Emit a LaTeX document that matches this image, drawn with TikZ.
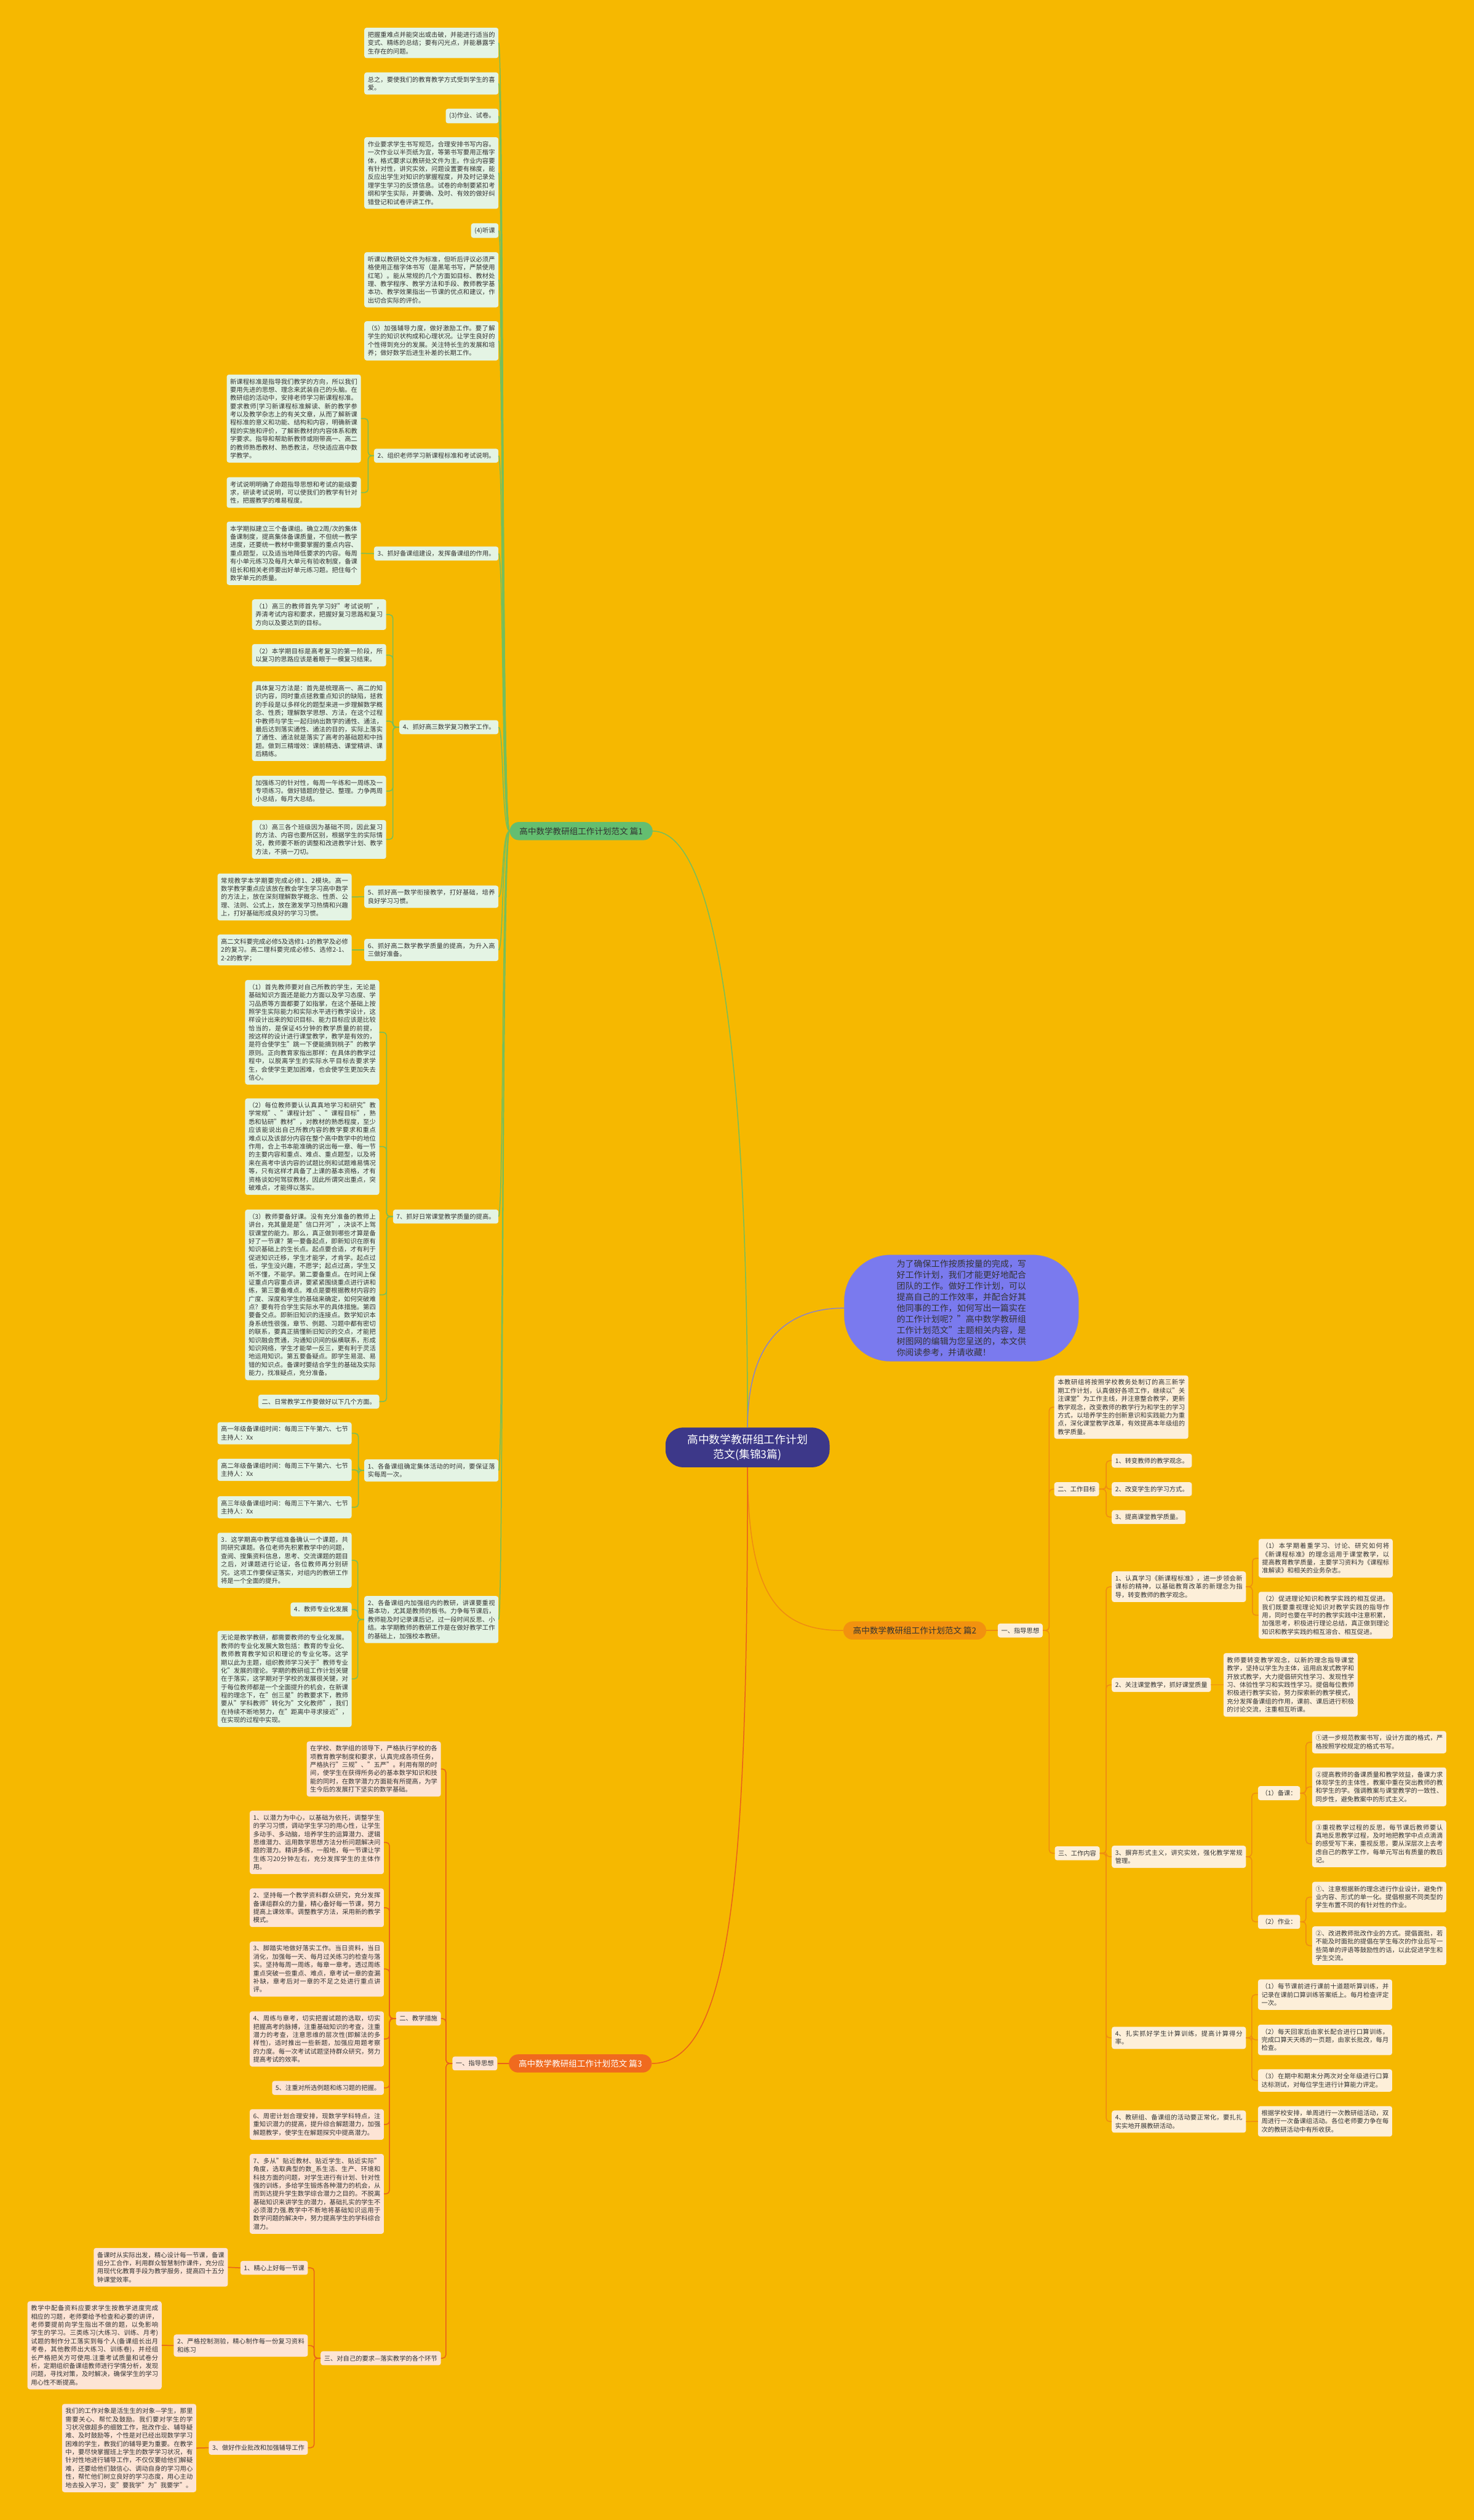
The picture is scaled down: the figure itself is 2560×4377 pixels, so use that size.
\documentclass[tikz,border=0pt]{standalone}
\usepackage{fontspec}
\setmainfont{Noto Sans CJK SC}
\XeTeXlinebreaklocale "zh"
\XeTeXlinebreakskip = 0pt plus 1pt
\setlength{\parindent}{0pt}

\definecolor{bgyel}{HTML}{F6B800}
\definecolor{txt}{HTML}{333333}
\definecolor{gline}{HTML}{74BF5C}
\definecolor{gfill}{HTML}{E4F4E4}
\definecolor{gmain}{HTML}{64BE70}
\definecolor{oline}{HTML}{EF8C12}
\definecolor{ofill}{HTML}{FDEFD9}
\definecolor{omain}{HTML}{F2920F}
\definecolor{rline}{HTML}{E9601C}
\definecolor{rfill}{HTML}{FDE4D5}
\definecolor{rmain}{HTML}{F06A1E}
\definecolor{rootc}{HTML}{3D3889}
\definecolor{introc}{HTML}{7A7AEE}
\definecolor{introl}{HTML}{8A84C8}

\newcommand{\leaffnt}{\fontsize{11pt}{14.3pt}\selectfont}
\newcommand{\mainfnt}{\fontsize{14.5pt}{17pt}\selectfont}
\newcommand{\rootfnt}{\fontsize{19pt}{25pt}\selectfont}
\newcommand{\introfnt}{\fontsize{14.9pt}{19.3pt}\selectfont}

\begin{document}
\begin{tikzpicture}[x=1pt, y=-1pt,
    leaf/.style={rounded corners=4pt, inner xsep=6pt, inner ysep=7pt, text=txt, font=\leaffnt},
    wide/.style={text width=221pt, align=justify},
    gleaf/.style={leaf, fill=gfill},
    oleaf/.style={leaf, fill=ofill},
    rleaf/.style={leaf, fill=rfill},
    mainnode/.style={rounded corners=16pt, inner xsep=17pt, inner ysep=9pt, font=\mainfnt},
    glink/.style={draw=gline, line width=1.6pt, rounded corners=6pt},
    olink/.style={draw=oline, line width=1.6pt, rounded corners=6pt},
    rlink/.style={draw=rline, line width=1.6pt, rounded corners=6pt}]

    % background
    \fill[bgyel] (0,0) rectangle (2560,4377);
    \useasboundingbox (0,0) rectangle (2560,4377);

    % centre and intro
    \node[rounded corners=30pt, fill=rootc, text=white, font=\rootfnt, align=center,
          inner xsep=38pt, inner ysep=12pt] (root) at (1298.5,2514) {高中数学教研组工作计划\\范文(集锦3篇)};
    \node[rounded corners=80pt, fill=introc, draw=introl, text=txt, font=\introfnt,
          text width=225pt, align=justify, inner xsep=91pt, inner ysep=8pt] (intro) at (1670,2272)
        {为了确保工作按质按量的完成，写好工作计划，我们才能更好地配合团队的工作。做好工作计划，可以提高自己的工作效率，并配合好其他同事的工作，如何写出一篇实在的工作计划呢？"高中数学教研组工作计划范文"主题相关内容，是树图网的编辑为您呈送的，本文供你阅读参考，并请收藏！};

    % ---------- 篇1 ----------
    \node[mainnode, fill=gmain, text=txt] (p1) at (1009.5,1443.5) {高中数学教研组工作计划范文 篇1};

    \node[gleaf, wide, anchor=east] (a1) at (866,74.5) {把握重难点并能突出或击破，并能进行适当的变式、精练的总结；要有闪光点，并能暴露学生存在的问题。};
    \node[gleaf, wide, anchor=east] (a2) at (866,145) {总之，要使我们的教育教学方式受到学生的喜爱。};
    \node[gleaf, anchor=east] (a3) at (866,201.5) {(3)作业、试卷。};
    \node[gleaf, wide, anchor=east] (a4) at (866,300.5) {作业要求学生书写规范，合理安排书写内容。一次作业以半页纸为宜，等第书写要用正楷字体，格式要求以教研处文件为主。作业内容要有针对性，讲究实效，问题设置要有梯度，能反应出学生对知识的掌握程度，并及时记录处理学生学习的反馈信息。试卷的命制要紧扣考纲和学生实际，并要确、及时、有效的做好纠错登记和试卷评讲工作。};
    \node[gleaf, anchor=east] (a5) at (866,400.5) {(4)听课};
    \node[gleaf, wide, anchor=east] (a6) at (866,486) {听课以教研处文件为标准，但听后评议必须严格使用正楷字体书写（是黑笔书写，严禁使用红笔）。能从常规的几个方面如目标、教材处理、教学程序、教学方法和手段、教师教学基本功、教学效果指出一节课的优点和建议，作出切合实际的评价。};
    \node[gleaf, wide, anchor=east] (a7) at (866,592) {（5）加强辅导力度，做好激励工作。要了解学生的知识状构成和心理状况。让学生良好的个性得到充分的发展。关注特长生的发展和培养；做好数学后进生补差的长期工作。};

    \node[gleaf, anchor=east] (n2) at (866,791.5) {2、组织老师学习新课程标准和考试说明。};
    \node[gleaf, wide, anchor=east] (n2a) at (627,727) {新课程标准是指导我们教学的方向，所以我们要用先进的思想、理念来武装自己的头脑。在教研组的活动中，安排老师学习新课程标准。要求教师[学习新课程标准解读、新的教学参考以及教学杂志上的有关文章，从而了解新课程标准的意义和功能、结构和内容，明确新课程的实施和评价，了解新教材的内容体系和教学要求。指导和帮助新教师或刚带高一、高二的教师熟悉教材、熟悉教法，尽快适应高中数学教学。};
    \node[gleaf, wide, anchor=east] (n2b) at (627,855.5) {考试说明明确了命题指导思想和考试的能级要求，研读考试说明，可以使我们的教学有针对性，把握教学的难易程度。};

    \node[gleaf, anchor=east] (n3) at (866,961.5) {3、抓好备课组建设，发挥备课组的作用。};
    \node[gleaf, wide, anchor=east] (n3a) at (627,961) {本学期拟建立三个备课组。确立2周/次的集体备课制度，提高集体备课质量，不但统一教学进度，还要统一教材中需要掌握的重点内容、重点题型，以及适当地降低要求的内容。每周有小单元练习及每月大单元有验收制度，备课组长和相关老师要出好单元练习题。把住每个数学单元的质量。};

    \node[gleaf, anchor=east] (n4) at (866,1263) {4、抓好高三数学复习教学工作。};
    \node[gleaf, wide, anchor=east] (n4a) at (671,1067.5) {（1）高三的教师首先学习好"考试说明"，弄清考试内容和要求，把握好复习思路和复习方向以及要达到的目标。};
    \node[gleaf, wide, anchor=east] (n4b) at (671,1138) {（2）本学期目标是高考复习的第一阶段，所以复习的思路应该是着眼于一模复习结束。};
    \node[gleaf, wide, anchor=east] (n4c) at (671,1252.5) {具体复习方法是：首先是梳理高一、高二的知识内容，同时重点拯救重点知识的缺陷，拯救的手段是以多样化的题型来进一步理解数学概念、性质；理解数学思想、方法，在这个过程中教师与学生一起归纳出数学的通性、通法，最后达到落实通性、通法的目的，实际上落实了通性、通法就是落实了高考的基础题和中挡题。做到三精增效：课前精选、课堂精讲、课后精练。};
    \node[gleaf, wide, anchor=east] (n4d) at (671,1374) {加强练习的针对性，每周一午练和一周练及一专项练习。做好错题的登记、整理。力争两周小总结，每月大总结。};
    \node[gleaf, wide, anchor=east] (n4e) at (671,1458) {（3）高三各个班级因为基础不同，因此复习的方法、内容也要所区别，根据学生的实际情况，教师要不断的调整和改进教学计划、教学方法，不搞一刀切。};

    \node[gleaf, wide, anchor=east] (n5) at (866,1557.5) {5、抓好高一数学衔接教学，打好基础，培养良好学习习惯。};
    \node[gleaf, wide, anchor=east] (n5a) at (611,1558) {常规教学本学期要完成必修1、2模块。高一数学教学重点应该放在教会学生学习高中数学的方法上，放在深刻理解数学概念、性质、公理、法则、公式上，放在激发学习热情和兴趣上，打好基础形成良好的学习习惯。};

    \node[gleaf, wide, anchor=east] (n6) at (866,1650) {6、抓好高二数学教学质量的提高，为升入高三做好准备。};
    \node[gleaf, wide, anchor=east] (n6a) at (611,1650) {高二文科要完成必修5及选修1-1的教学及必修2的复习。高二理科要完成必修5、选修2-1、2-2的教学；};

    \node[gleaf, anchor=east] (n7) at (866,2113) {7、抓好日常课堂教学质量的提高。};
    \node[gleaf, wide, anchor=east] (n7a) at (659,1793) {（1）首先教师要对自己所教的学生，无论是基础知识方面还是能力方面以及学习态度、学习品质等方面都要了如指掌，在这个基础上按照学生实际能力和实际水平进行教学设计，这样设计出来的知识目标、能力目标应该是比较恰当的，是保证45分钟的教学质量的前提，按这样的设计进行课堂教学，教学是有效的，是符合使学生"跳一下便能摘到桃子"的教学原则。正向教育家指出那样：在具体的教学过程中，以脱离学生的实际水平目标去要求学生，会使学生更加困难，也会使学生更加失去信心。};
    \node[gleaf, wide, anchor=east] (n7b) at (659,1991.5) {（2）每位教师要认认真真地学习和研究"教学常规"、"课程计划"、"课程目标"，熟悉和钻研"教材"，对教材的熟悉程度，至少应该能说出自己所教内容的教学要求和重点难点以及该部分内容在整个高中数学中的地位作用，合上书本能准确的说出每一章、每一节的主要内容和重点、难点、重点题型，以及将来在高考中该内容的试题比例和试题难易情况等，只有这样才具备了上课的基本资格，才有资格谈如何驾驭教材，因此所谓突出重点，突破难点，才能得以落实。};
    \node[gleaf, wide, anchor=east] (n7c) at (659,2249) {（3）教师要备好课。没有充分准备的教师上讲台，充其量是是"信口开河"，决谈不上驾驭课堂的能力。那么，真正做到哪些才算是备好了一节课？第一要备起点，即新知识在原有知识基础上的生长点。起点要合适，才有利于促进知识迁移，学生才能学，才肯学。起点过低，学生没兴趣，不愿学；起点过高，学生又听不懂，不能学。第二要备重点。在时间上保证重点内容重点讲，要紧紧围绕重点进行讲和练，第三要备难点。难点是要根据教材内容的广度、深度和学生的基础来确定，如何突破难点？要有符合学生实际水平的具体措施。第四要备交点。即新旧知识的连接点。数学知识本身系统性很强，章节、例题、习题中都有密切的联系，要真正搞懂新旧知识的交点，才能把知识融会贯通，沟通知识间的纵横联系，形成知识网络，学生才能举一反三，更有利于灵活地运用知识。第五要备疑点。即学生易混、易错的知识点。备课时要结合学生的基础及实际能力，找准疑点，充分准备。};
    \node[gleaf, anchor=east] (n7d) at (659,2434.5) {二、日常教学工作要做好以下几个方面。};

    \node[gleaf, wide, anchor=east] (n8) at (866,2554) {1、各备课组确定集体活动的时间，要保证落实每周一次。};
    \node[gleaf, wide, anchor=east] (n8a) at (611,2489.5) {高一年级备课组时间：每周三下午第六、七节主持人：Xx};
    \node[gleaf, wide, anchor=east] (n8b) at (611,2553) {高二年级备课组时间：每周三下午第六、七节主持人：Xx};
    \node[gleaf, wide, anchor=east] (n8c) at (611,2618) {高三年级备课组时间：每周三下午第六、七节主持人：Xx};

    \node[gleaf, wide, anchor=east] (n9) at (866,2813) {2、各备课组内加强组内的教研，讲课要重视基本功，尤其是教师的板书。力争每节课后，教师能及时记录课后记，过一段时间反思、小结。本学期教师的教研工作是在做好教学工作的基础上，加强校本教研。};
    \node[gleaf, wide, anchor=east] (n9a) at (611,2710) {3．这学期高中教学组准备确认一个课题，共同研究课题。各位老师先积累教学中的问题，查阅、搜集资料信息，思考、交流课题的题目之后，对课题进行论证，各位教师再分别研究。这项工作要保证落实，对组内的教研工作将是一个全面的提升。};
    \node[gleaf, anchor=east] (n9b) at (611,2795.5) {4．教师专业化发展};
    \node[gleaf, wide, anchor=east] (n9c) at (611,2916) {无论是教学教研，都需要教师的专业化发展。教师的专业化发展大致包括：教育的专业化、教师教育教学知识和理论的专业化等。这学期以此为主题，组织教师学习关于"教师专业化"发展的理论。学期的教研组工作计划关键在于落实，这学期对于学校的发展很关键，对于每位教师都是一个全面提升的机会，在新课程的理念下，在"创三星"的教要求下，教师要从"学科教师"转化为"文化教师"，我们在持续不断地努力，在"距离中寻求接近"，在实现的过程中实现。};

    % ---------- 篇2 ----------
    \node[mainnode, fill=omain, text=txt] (p2) at (1589,2832) {高中数学教研组工作计划范文 篇2};
    \node[oleaf, anchor=west] (z1) at (1733,2832) {一、指导思想};
    \node[oleaf, wide, anchor=west] (z2) at (1831,2444) {本教研组将按照学校教务处制订的高三新学期工作计划，认真做好各项工作，继续以"关注课堂"为工作主线，并注意整合教学，更新教学观念，改变教师的教学行为和学生的学习方式，以培养学生的创新意识和实践能力为重点，深化课堂教学改革，有效提高本年级组的教学质量。};
    \node[oleaf, anchor=west] (z3) at (1831,2586.5) {二、工作目标};
    \node[oleaf, anchor=west] (z3a) at (1931,2537) {1、转变教师的教学观念。};
    \node[oleaf, anchor=west] (z3b) at (1931,2586.5) {2、改变学生的学习方式。};
    \node[oleaf, anchor=west] (z3c) at (1931,2635) {3、提高课堂教学质量。};
    \node[oleaf, anchor=west] (z4) at (1832,3219) {三、工作内容};

    \node[oleaf, wide, anchor=west] (z5) at (1931,2756) {1、认真学习《新课程标准》，进一步领会新课标的精神，以基础教育改革的新理念为指导，转变教师的教学观念。};
    \node[oleaf, wide, anchor=west] (z5a) at (2186,2706.5) {（1）本学期着重学习、讨论、研究如何将《新课程标准》的理念运用于课堂教学，以提高教育教学质量，主要学习资料为《课程标准解读》和相关的业务杂志。};
    \node[oleaf, wide, anchor=west] (z5b) at (2186,2805.5) {（2）促进理论知识和教学实践的相互促进。我们既要重视理论知识对教学实践的指导作用，同时也要在平时的教学实践中注意积累，加强思考，积极进行理论总结，真正做到理论知识和教学实践的相互溶合、相互促进。};

    \node[oleaf, anchor=west] (z6) at (1931,2926.5) {2、关注课堂教学，抓好课堂质量};
    \node[oleaf, wide, anchor=west] (z6a) at (2125,2926.5) {教师要转变教学观念，以新的理念指导课堂教学，坚持以学生为主体，运用启发式教学和开放式教学，大力提倡研究性学习、发现性学习、体验性学习和实践性学习。提倡每位教师积极进行教学实验，努力探索新的教学模式，充分发挥备课组的作用，课前、课后进行积极的讨论交流，注重相互听课。};

    \node[oleaf, wide, anchor=west] (z7) at (1931,3225) {3、摒弃形式主义，讲究实效，强化教学常规管理。};
    \node[oleaf, anchor=west] (z7a) at (2185,3114.5) {（1）备课：};
    \node[oleaf, wide, anchor=west] (z7a1) at (2279,3026) {①进一步规范教案书写，设计方面的格式，严格按照学校规定的格式书写。};
    \node[oleaf, wide, anchor=west] (z7a2) at (2279,3103.5) {②提高教师的备课质量和教学效益，备课力求体现学生的主体性，教案中重在突出教师的教和学生的学。强调教案与课堂教学的一致性、同步性，避免教案中的形式主义。};
    \node[oleaf, wide, anchor=west] (z7a3) at (2279,3202.5) {③重视教学过程的反思，每节课后教师要认真地反思教学过程，及时地把教学中点点滴滴的感受写下来，重视反思，要从深层次上去考虑自己的教学工作，每单元写出有质量的教后记。};
    \node[oleaf, anchor=west] (z7b) at (2185,3338) {（2）作业：};
    \node[oleaf, wide, anchor=west] (z7b1) at (2279,3295) {①、注意根据新的理念进行作业设计，避免作业内容、形式的单一化。提倡根据不同类型的学生布置不同的有针对性的作业。};
    \node[oleaf, wide, anchor=west] (z7b2) at (2279,3379.5) {②、改进教师批改作业的方式。提倡面批，若不能及时面批的提倡在学生每次的作业后写一些简单的评语等鼓励性的话，以此促进学生和学生交流。};

    \node[oleaf, wide, anchor=west] (z8) at (1931,3539.5) {4、扎实抓好学生计算训练，提高计算得分率。};
    \node[oleaf, wide, anchor=west] (z8a) at (2185,3464.5) {（1）每节课前进行课前十道题听算训练，并记录在课前口算训练答案纸上。每月检查评定一次。};
    \node[oleaf, wide, anchor=west] (z8b) at (2185,3543) {（2）每天回家后由家长配合进行口算训练，完成口算天天练的一页题，由家长批改，每月检查。};
    \node[oleaf, wide, anchor=west] (z8c) at (2185,3613.5) {（3）在期中和期末分两次对全年级进行口算达标测试，对每位学生进行计算能力评定。};

    \node[oleaf, wide, anchor=west] (z9) at (1931,3685) {4、教研组、备课组的活动要正常化，要扎扎实实地开展教研活动。};
    \node[oleaf, wide, anchor=west] (z9a) at (2185,3684.5) {根据学校安排，单周进行一次教研组活动，双周进行一次备课组活动。各位老师要力争在每次的教研活动中有所收获。};

    % ---------- 篇3 ----------
    \node[mainnode, fill=rmain, text=white] (p3) at (1008,3584) {高中数学教研组工作计划范文 篇3};
    \node[rleaf, anchor=east] (t1) at (864,3584) {一、指导思想};
    \node[rleaf, wide, anchor=east] (t2) at (766,3072.5) {在学校、数学组的领导下，严格执行学校的各项教育教学制度和要求，认真完成各项任务，严格执行"三规"、"五严"。利用有限的时间，使学生在获得所务必的基本数学知识和技能的同时，在数学潜力方面能有所提高，为学生今后的发展打下坚实的数学基础。};
    \node[rleaf, anchor=east] (t3) at (766,3506) {二、教学措施};
    \node[rleaf, wide, anchor=east] (t3a) at (667,3200) {1、以潜力为中心，以基础为依托，调整学生的学习习惯，调动学生学习的用心性，让学生多动手、多动脑，培养学生的运算潜力、逻辑思维潜力、运用数学思想方法分析问题解决问题的潜力。精讲多练，一般地，每一节课让学生练习20分钟左右，充分发挥学生的主体作用。};
    \node[rleaf, wide, anchor=east] (t3b) at (667,3313.5) {2、坚持每一个教学资料群众研究，充分发挥备课组群众的力量，精心备好每一节课，努力提高上课效率。调整教学方法，采用新的教学模式。};
    \node[rleaf, wide, anchor=east] (t3c) at (667,3420) {3、脚踏实地做好落实工作。当日资料，当日消化，加强每一天、每月过关练习的检查与落实。坚持每周一周练，每章一章考。透过周练重点突破一些重点、难点，章考试一章的查漏补缺，章考后对一章的不足之处进行重点讲评。};
    \node[rleaf, wide, anchor=east] (t3d) at (667,3541.5) {4、周练与章考，切实把握试题的选取，切实把握高考的脉搏，注重基础知识的考查，注重潜力的考查，注意思维的层次性(即解法的多样性)，适时推出一些新题，加强应用题考察的力度。每一次考试试题坚持群众研究，努力提高考试的效率。};
    \node[rleaf, anchor=east] (t3e) at (667,3626.5) {5、注重对所选例题和练习题的把握。};
    \node[rleaf, wide, anchor=east] (t3f) at (667,3690) {6、周密计划合理安排，现数学学科特点，注重知识潜力的提高，提升综合解题潜力，加强解题教学，使学生在解题探究中提高潜力。};
    \node[rleaf, wide, anchor=east] (t3g) at (667,3810.5) {7、多从"贴近教材、贴近学生、贴近实际"角度，选取典型的数\_系生活、生产、环境和科技方面的问题，对学生进行有计划、针对性强的训练，多给学生锻炼各种潜力的机会，从而到达提升学生数学综合潜力之目的。不脱离基础知识来讲学生的潜力，基础扎实的学生不必须潜力强.教学中不断地将基础知识运用于数学问题的解决中，努力提高学生的学科综合潜力。};

    \node[rleaf, anchor=east] (t4) at (766,4096) {三、对自己的要求—落实教学的各个环节};
    \node[rleaf, anchor=east] (t4a) at (535,3939) {1、精心上好每一节课};
    \node[rleaf, wide, anchor=east] (t4a1) at (396,3938) {备课时从实际出发，精心设计每一节课，备课组分工合作，利用群众智慧制作课件，充分应用现代化教育手段为教学服务，提高四十五分钟课堂效率。};
    \node[rleaf, wide, anchor=east] (t4b) at (535,4074) {2、严格控制测验，精心制作每一份复习资料和练习};
    \node[rleaf, wide, anchor=east] (t4b1) at (281,4073.5) {教学中配备资料应要求学生按教学进度完成相应的习题，老师要给予检查和必要的讲评，老师要提前向学生指出不做的题，以免影响学生的学习。三类练习(大练习、训练、月考)试题的制作分工落实到每个人(备课组长出月考卷，其他教师出大练习、训练卷)，并经组长严格把关方可使用.注重考试质量和试卷分析，定期组织备课组教师进行学情分析，发现问题，寻找对策，及时解决，确保学生的学习用心性不断提高。};
    \node[rleaf, anchor=east] (t4c) at (535,4251.5) {3、做好作业批改和加强辅导工作};
    \node[rleaf, wide, anchor=east] (t4c1) at (341,4252) {我们的工作对象是活生生的对象—学生，那里需要关心、帮忙及鼓励。我们要对学生的学习状况做超多的细致工作，批改作业、辅导疑难、及时鼓励等，个性是对已经出现数学学习困难的学生，教我们的辅导更为重要。在教学中，要尽快掌握班上学生的数学学习状况，有针对性地进行辅导工作，不仅仅要给他们解疑难，还要给他们鼓信心、调动自身的学习用心性，帮忙他们树立良好的学习态度，用心主动地去投入学习，变"要我学"为"我要学"。};

    % centre links
    \draw[gline, line width=1.6pt] (root.north) .. controls +(0,-580) and +(120,0) .. (p1.east);
    \draw[introl, line width=1.6pt] (root.north) .. controls +(0,-150) and +(-100,0) .. (intro.west);
    \draw[oline, line width=1.6pt] (root.south) .. controls +(0,230) and +(-110,0) .. (p2.west);
    \draw[rline, line width=1.6pt] (root.south) .. controls +(0,700) and +(140,0) .. (p3.east);

    % 篇1 links
    \foreach \n in {a1,a2,a3,a4,a5,a6,a7,n2,n3,n4,n5,n6,n7,n8,n9}
        \draw[glink] (p1.west) .. controls +(-14,0) and +(9,0) .. (\n.east);
    \foreach \n in {n2a,n2b}
        \draw[glink] (n2.west) -- ++(-10,0) |- (\n.east);
    \draw[glink] (n3.west) -- (n3a.east);
    \foreach \n in {n4a,n4b,n4c,n4d,n4e}
        \draw[glink] (n4.west) -- ++(-11,0) |- (\n.east);
    \draw[glink] (n5.west) -- (n5a.east);
    \draw[glink] (n6.west) -- (n6a.east);
    \foreach \n in {n7a,n7b,n7c,n7d}
        \draw[glink] (n7.west) -- ++(-11,0) |- (\n.east);
    \foreach \n in {n8a,n8b,n8c}
        \draw[glink] (n8.west) -- ++(-10,0) |- (\n.east);
    \foreach \n in {n9a,n9b,n9c}
        \draw[glink] (n9.west) -- ++(-11,0) |- (\n.east);

    % 篇2 links
    \draw[olink] (p2.east) -- (z1.west);
    \foreach \n in {z2,z3,z4}
        \draw[olink] (z1.east) -- ++(11,0) |- (\n.west);
    \foreach \n in {z3a,z3b,z3c}
        \draw[olink] (z3.east) -- ++(12,0) |- (\n.west);
    \foreach \n in {z5,z6,z7,z8,z9}
        \draw[olink] (z4.east) -- ++(11,0) |- (\n.west);
    \foreach \n in {z5a,z5b}
        \draw[olink] (z5.east) -- ++(11,0) |- (\n.west);
    \draw[olink] (z6.east) -- (z6a.west);
    \foreach \n in {z7a,z7b}
        \draw[olink] (z7.east) -- ++(10,0) |- (\n.west);
    \foreach \n in {z7a1,z7a2,z7a3}
        \draw[olink] (z7a.east) -- ++(10,0) |- (\n.west);
    \foreach \n in {z7b1,z7b2}
        \draw[olink] (z7b.east) -- ++(10,0) |- (\n.west);
    \foreach \n in {z8a,z8b,z8c}
        \draw[olink] (z8.east) -- ++(10,0) |- (\n.west);
    \draw[olink] (z9.east) -- (z9a.west);

    % 篇3 links
    \draw[rlink] (p3.west) -- (t1.east);
    \foreach \n in {t2,t3,t4}
        \draw[rlink] (t1.west) -- ++(-11,0) |- (\n.east);
    \foreach \n in {t3a,t3b,t3c,t3d,t3e,t3f,t3g}
        \draw[rlink] (t3.west) -- ++(-11,0) |- (\n.east);
    \foreach \n in {t4a,t4b,t4c}
        \draw[rlink] (t4.west) -- ++(-11,0) |- (\n.east);
    \draw[rlink] (t4a.west) -- (t4a1.east);
    \draw[rlink] (t4b.west) -- (t4b1.east);
    \draw[rlink] (t4c.west) -- (t4c1.east);

\end{tikzpicture}
\end{document}
